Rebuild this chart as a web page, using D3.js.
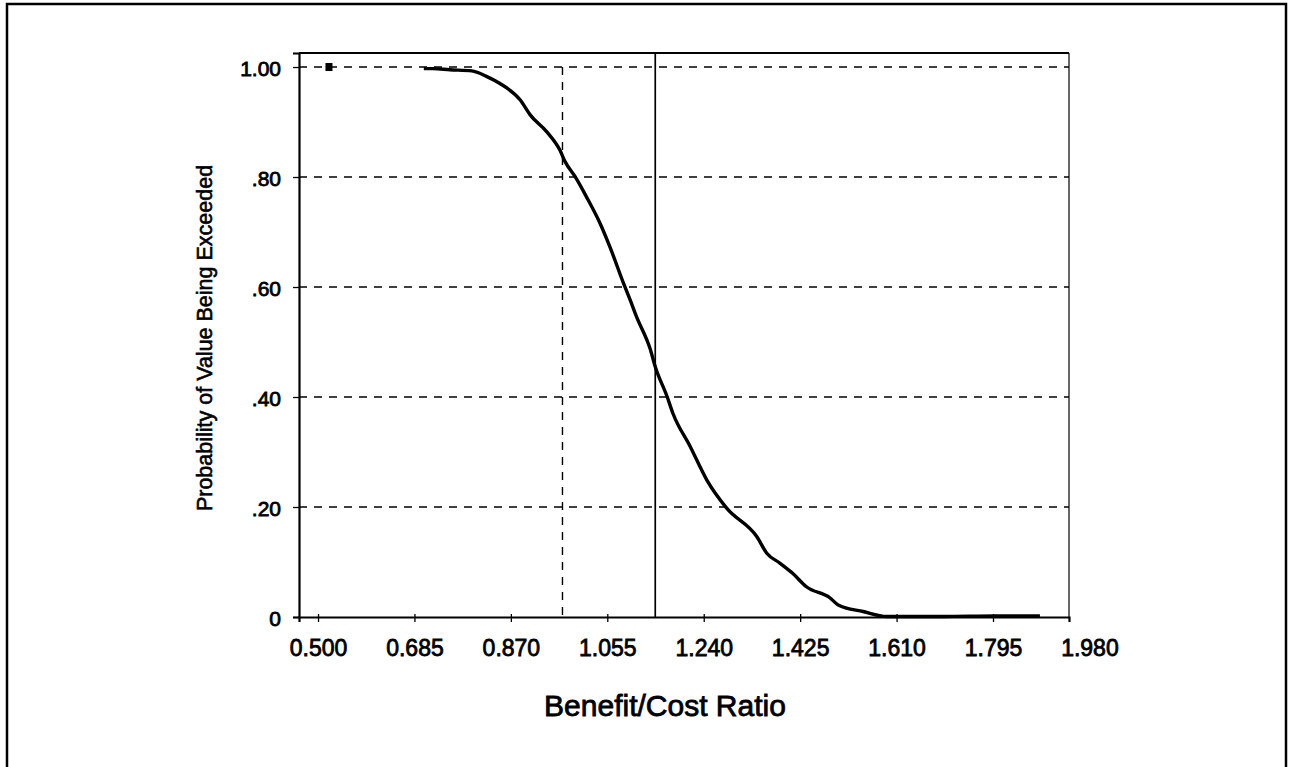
<!DOCTYPE html>
<html>
<head>
<meta charset="utf-8">
<script src="https://cdn.jsdelivr.net/npm/d3@7"></script>
<style>
  body { margin: 0; background: #fff; }
  svg text { font-family: Arial, "Liberation Sans", sans-serif; fill: #000; }
</style>
</head>
<body>
<svg id="chart" width="1291" height="767"></svg>
<script>
// benefit/cost ratio vs probability of value being exceeded
var bcRatio = [0.703, 0.720, 0.753, 0.795, 0.823, 0.849, 0.888, 0.907, 0.939, 0.964,
  0.974, 0.993, 1.015, 1.041, 1.060, 1.086, 1.099, 1.111, 1.137, 1.147,
  1.170, 1.181, 1.214, 1.246, 1.284, 1.342, 1.361, 1.386, 1.411, 1.437,
  1.482, 1.498, 1.546, 1.591, 1.700, 1.800, 1.885];
var probExceeded = [0.997, 0.997, 0.995, 0.993, 0.983, 0.970, 0.940, 0.913, 0.882, 0.849,
  0.828, 0.801, 0.764, 0.716, 0.673, 0.607, 0.576, 0.546, 0.488, 0.455,
  0.400, 0.370, 0.310, 0.249, 0.198, 0.146, 0.116, 0.098, 0.079, 0.055,
  0.035, 0.022, 0.010, 0.001, 0.001, 0.002, 0.002];

// lone marker at top left
var markerX = [0.521];
var markerY = [1.00];

var xTicks = [0.500, 0.685, 0.870, 1.055, 1.240, 1.425, 1.610, 1.795, 1.980];
var yTicks = [0, 0.20, 0.40, 0.60, 0.80, 1.00];
var yTickLabels = ["0", ".20", ".40", ".60", ".80", "1.00"];

var dashedRef = 0.969;   // vertical dashed reference
var solidRef = 1.147;    // vertical solid reference

var svg = d3.select("#chart");

// outer frame
svg.append("rect")
  .attr("x", 7).attr("y", 4)
  .attr("width", 1279).attr("height", 800)
  .style("fill", "none").style("stroke", "#000").style("stroke-width", 2.5);

var margin = {top: 53, left: 299},
    width = 770,
    height = 564;

var g = svg.append("g")
  .attr("transform", "translate(" + margin.left + "," + margin.top + ")");

var x = d3.scaleLinear().domain([0.4635, 1.9408]).range([0, width]);
var y = d3.scaleLinear().domain([0, 1.0255]).range([height, 0]);

// horizontal dashed grid
g.selectAll(".hgrid")
  .data(yTicks.filter(function(d){ return d > 0; }))
  .enter().append("line")
  .attr("class", "hgrid")
  .attr("x1", 0).attr("x2", width)
  .attr("y1", function(d){ return y(d); })
  .attr("y2", function(d){ return y(d); })
  .style("stroke", "#000").style("stroke-width", 1.4)
  .style("stroke-dasharray", "8,7");

// vertical reference lines
g.append("line")
  .attr("x1", x(dashedRef)).attr("x2", x(dashedRef))
  .attr("y1", y(1)).attr("y2", height)
  .style("stroke", "#000").style("stroke-width", 1.4)
  .style("stroke-dasharray", "8,7");

g.append("line")
  .attr("x1", x(solidRef)).attr("x2", x(solidRef))
  .attr("y1", 0).attr("y2", height)
  .style("stroke", "#000").style("stroke-width", 1.7);

// top and right border
g.append("line").attr("x1", 0).attr("x2", width).attr("y1", 0).attr("y2", 0)
  .style("stroke", "#000").style("stroke-width", 2);
g.append("line").attr("x1", width).attr("x2", width).attr("y1", 0).attr("y2", height)
  .style("stroke", "#000").style("stroke-width", 1.2);

// axes
var xAxis = d3.axisBottom(x)
  .tickValues(xTicks)
  .tickSizeOuter(0)
  .tickSize(5)
  .tickPadding(18)
  .tickFormat(d3.format(".3f"));

var gx = g.append("g")
  .attr("transform", "translate(0," + height + ")")
  .call(xAxis);
gx.select(".domain").style("stroke-width", 2.2);
gx.selectAll(".tick line")
  .attr("y1", -3)
  .style("stroke-width", 1.3)
  .style("display", function(d){ return x(d) > width ? "none" : null; });
gx.selectAll(".tick text")
  .style("font-size", "23px")
  .style("stroke", "#000").style("stroke-width", 0.8);

var yAxis = d3.axisLeft(y)
  .tickValues(yTicks)
  .tickSizeOuter(0)
  .tickSize(6)
  .tickPadding(12)
  .tickFormat(function(d, i){ return yTickLabels[i]; });

var gy = g.append("g").call(yAxis);
gy.select(".domain").style("stroke-width", 2.2);
gy.selectAll(".tick line").style("stroke-width", 1.3);
gy.selectAll(".tick text")
  .attr("dy", "0.42em")
  .style("font-size", "21px")
  .style("stroke", "#000").style("stroke-width", 0.8);

// exceedance curve
var curveData = bcRatio.map(function(d, i){ return {x: d, y: probExceeded[i]}; });

var line = d3.line()
  .curve(d3.curveMonotoneX)
  .x(function(d){ return x(d.x); })
  .y(function(d){ return y(d.y); });

g.append("path")
  .datum(curveData)
  .attr("d", line)
  .style("fill", "none")
  .style("stroke", "#000")
  .style("stroke-width", 3.4)
  .style("stroke-linejoin", "round");

g.selectAll(".marker")
  .data(markerX)
  .enter().append("rect")
  .attr("class", "marker")
  .attr("x", function(d){ return x(d) - 3.5; })
  .attr("y", function(d, i){ return y(markerY[i]) - 4; })
  .attr("width", 7).attr("height", 8)
  .style("fill", "#000");

// axis titles
svg.append("text")
  .attr("transform", "translate(212,338) rotate(-90)")
  .attr("text-anchor", "middle")
  .style("font-size", "21.5px")
  .style("stroke", "#000").style("stroke-width", 0.6)
  .text("Probability of Value Being Exceeded");

svg.append("text")
  .attr("x", 665).attr("y", 716)
  .attr("text-anchor", "middle")
  .style("font-size", "30px")
  .style("stroke", "#000").style("stroke-width", 0.8)
  .text("Benefit/Cost Ratio");
</script>
</body>
</html>
